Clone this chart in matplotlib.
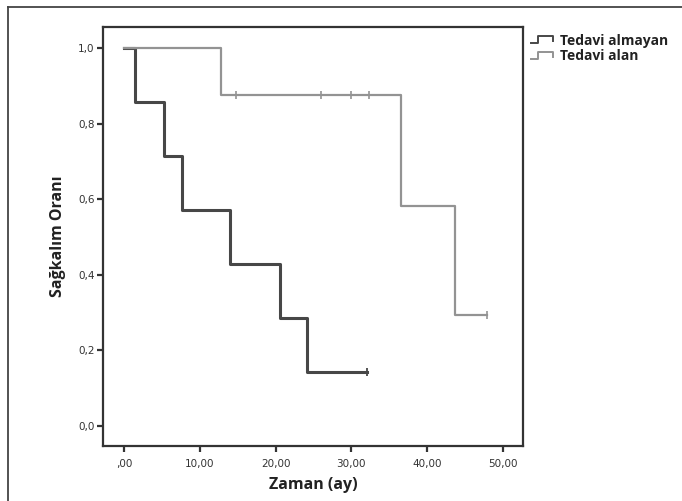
import matplotlib
matplotlib.use("Agg")
import matplotlib.pyplot as plt
from matplotlib.lines import Line2D
from matplotlib.legend_handler import HandlerBase

# Data
series_names = ["Tedavi almayan", "Tedavi alan"]
untreated_times = [0.0, 1.4, 5.25, 7.7, 14.0, 20.6, 24.2, 32.1]
untreated_surv = [1.0, 0.857, 0.714, 0.571, 0.429, 0.286, 0.143, 0.143]
untreated_censor_t = [32.1]
untreated_censor_s = [0.143]
treated_times = [0.0, 12.8, 36.6, 43.7, 48.0]
treated_surv = [1.0, 0.875, 0.583, 0.292, 0.292]
treated_censor_t = [14.8, 26.0, 30.0, 32.3, 48.0]
treated_censor_s = [0.875, 0.875, 0.875, 0.875, 0.292]
x_ticks = [0, 10, 20, 30, 40, 50]
x_ticklabels = [",00", "10,00", "20,00", "30,00", "40,00", "50,00"]
y_ticks = [0.0, 0.2, 0.4, 0.6, 0.8, 1.0]
y_ticklabels = ["0,0", "0,2", "0,4", "0,6", "0,8", "1,0"]

dark = "#474747"
gray = "#939393"


class StepHandler(HandlerBase):
    def create_artists(self, legend, orig_handle, xdescent, ydescent, width, height, fontsize, trans):
        w, h = width, height
        xs = [0, 0.35 * w, 0.35 * w, w, w]
        ys = [0.15 * h, 0.15 * h, 0.85 * h, 0.85 * h, 0.35 * h]
        ln = Line2D([x - xdescent for x in xs], [y - ydescent for y in ys],
                    color=orig_handle.get_color(), lw=1.4, transform=trans)
        return [ln]


W, H = 682, 501
fig = plt.figure(figsize=(W / 100, H / 100), dpi=100)
ax = fig.add_axes([103 / W, 1 - 446 / H, (523 - 103) / W, (446 - 27) / H])

ax.step(untreated_times, untreated_surv, where="post", color=dark, lw=2.2, zorder=2)
ax.plot(untreated_censor_t, untreated_censor_s, ls="none", marker="|", ms=6, mew=1.3, color=dark, zorder=2)
ax.step(treated_times, treated_surv, where="post", color=gray, lw=1.6, zorder=3)
ax.plot(treated_censor_t, treated_censor_s, ls="none", marker="|", ms=6, mew=1.2, color=gray, zorder=3)

ax.set_xlim(-2.8, 52.7)
ax.set_ylim(-0.054, 1.056)
ax.set_xticks(x_ticks)
ax.set_xticklabels(x_ticklabels)
ax.set_yticks(y_ticks)
ax.set_yticklabels(y_ticklabels)

for s in ax.spines.values():
    s.set_linewidth(1.6)
    s.set_color("#333333")
ax.tick_params(axis="both", direction="out", length=4, width=1.6, color="#333333",
               labelsize=7.5, labelcolor="#333333")
ax.tick_params(axis="x", pad=5)
ax.tick_params(axis="y", pad=2)
for lab in ax.get_xticklabels() + ax.get_yticklabels():
    lab.set_family("DejaVu Sans")

ax.set_xlabel("Zaman (ay)", fontsize=11.5, fontweight="bold", family="Open Sans", color="#222222", labelpad=6)
ax.set_ylabel("Sağkalım Oranı", fontsize=11.5, fontweight="bold", family="Open Sans", color="#222222", labelpad=9)

handles = [Line2D([0], [0], color=dark, lw=1.6), Line2D([0], [0], color=gray, lw=1.6)]
leg = fig.legend(handles, series_names, loc="upper left", bbox_to_anchor=(518 / W, 1 - 21 / H),
                 frameon=False, handlelength=1.6, handleheight=0.8, handletextpad=0.5, labelspacing=0.12,
                 handler_map={Line2D: StepHandler()},
                 prop={"family": "Open Sans", "weight": "bold", "size": 10})
for t in leg.get_texts():
    t.set_color("#222222")

# Outer frame (left and top only visible)
fig.add_artist(Line2D([8 / W, 8 / W], [0, 1 - 7 / H], transform=fig.transFigure, color="#444444", lw=1.3))
fig.add_artist(Line2D([8 / W, 1], [1 - 7 / H, 1 - 7 / H], transform=fig.transFigure, color="#444444", lw=1.3))

fig.savefig("out.png", dpi=100)
